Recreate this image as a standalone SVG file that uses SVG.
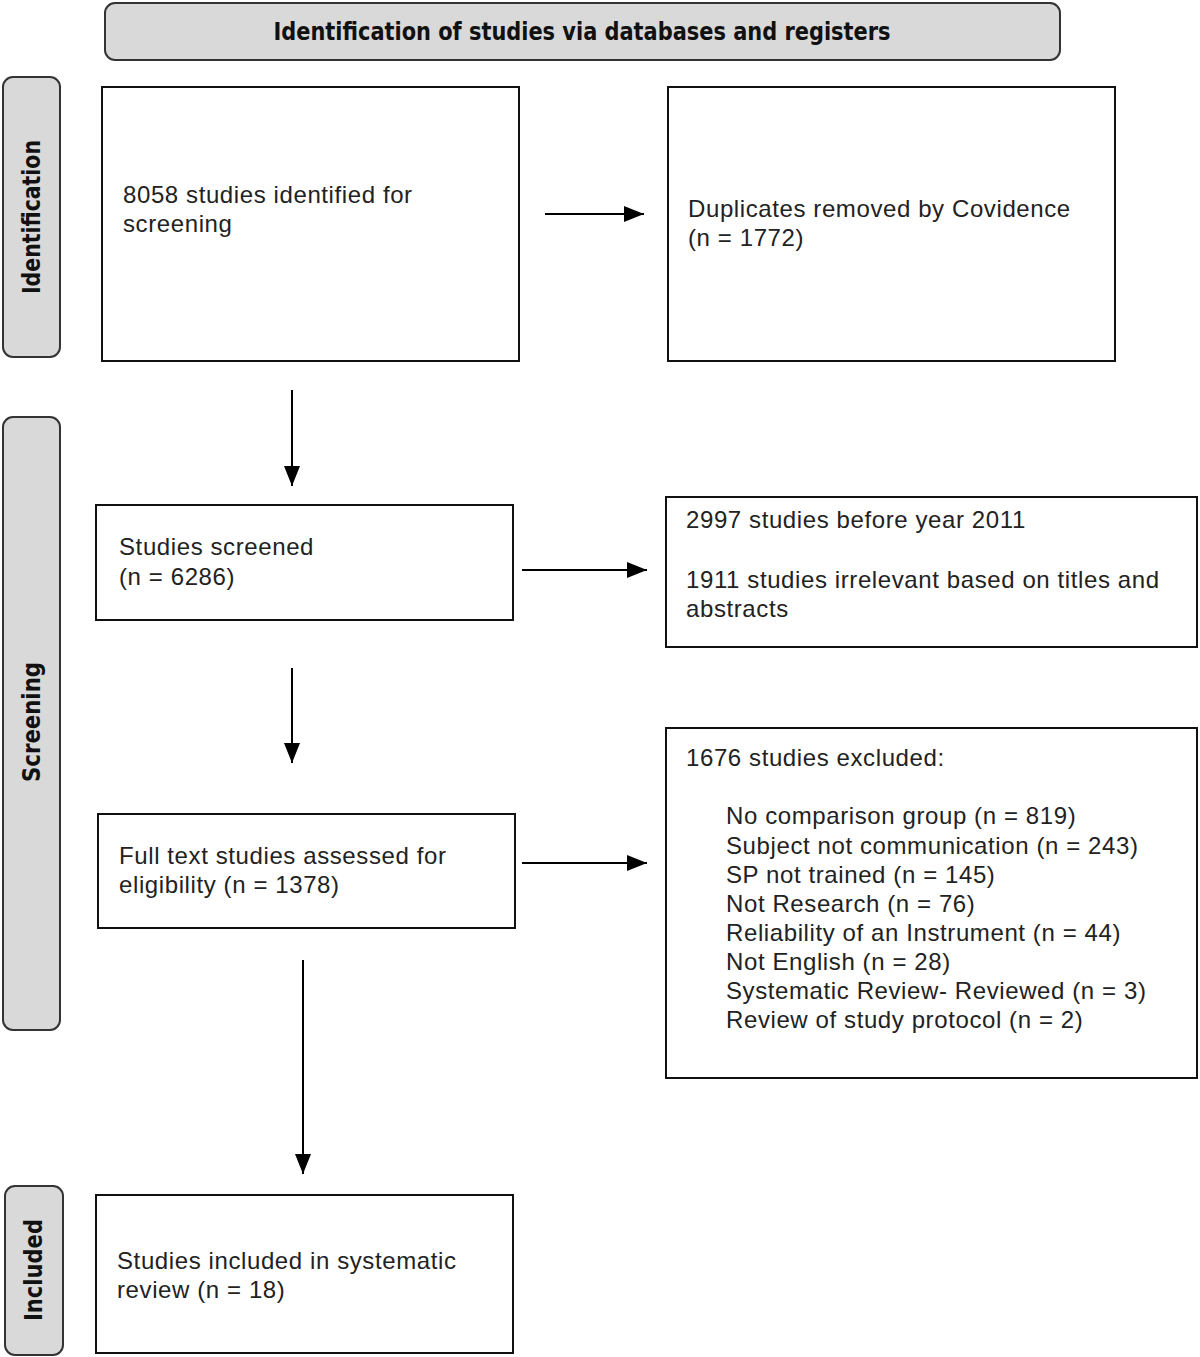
<svg xmlns="http://www.w3.org/2000/svg" width="1200" height="1357" viewBox="0 0 1200 1357">
<defs>
<style>
.bar{fill:#d9d9d9;stroke:#333;stroke-width:2}
.box{fill:#fff;stroke:#111;stroke-width:2}
.t{font-family:"Liberation Sans",Arial,sans-serif;font-size:24px;letter-spacing:0.6px;fill:#222}
.h{font-family:"Liberation Sans Narrow","DejaVu Sans Condensed","Liberation Sans",sans-serif;font-weight:bold;font-size:24px;fill:#111}
.c{stroke:#000;stroke-width:2;fill:none}
</style>
<marker id="ah" markerUnits="userSpaceOnUse" markerWidth="22" markerHeight="16" refX="20" refY="8" orient="auto">
<path d="M0,0 L20,8 L0,16 Z" fill="#000"/>
</marker>
</defs>
<rect width="1200" height="1357" fill="#fff"/>

<g id="header">
<rect class="bar" x="105" y="3" width="955" height="57" rx="10"/>
<text class="h" x="582" y="40" text-anchor="middle" textLength="617" lengthAdjust="spacingAndGlyphs">Identification of studies via databases and registers</text>
</g>
<g id="phase-identification">
<rect class="bar" x="3" y="77" width="57" height="280" rx="10"/>
<text class="h" transform="translate(40,217) rotate(-90)" text-anchor="middle" textLength="154" lengthAdjust="spacingAndGlyphs">Identification</text>
</g>
<g id="phase-screening">
<rect class="bar" x="3" y="417" width="57" height="613" rx="10"/>
<text class="h" transform="translate(40,722) rotate(-90)" text-anchor="middle" textLength="120" lengthAdjust="spacingAndGlyphs">Screening</text>
</g>
<g id="phase-included">
<rect class="bar" x="5" y="1186" width="58" height="169" rx="10"/>
<text class="h" transform="translate(42,1270) rotate(-90)" text-anchor="middle" textLength="102" lengthAdjust="spacingAndGlyphs">Included</text>
</g>

<g id="identified">
<rect class="box" x="102" y="87" width="417" height="274"/>
<text class="t" x="123" y="203">8058 studies identified for</text>
<text class="t" x="123" y="232">screening</text>
</g>
<g id="duplicates">
<rect class="box" x="668" y="87" width="447" height="274"/>
<text class="t" x="688" y="217">Duplicates removed by Covidence</text>
<text class="t" x="688" y="246">(n = 1772)</text>
</g>
<g id="screened">
<rect class="box" x="96" y="505" width="417" height="115"/>
<text class="t" x="119" y="555">Studies screened</text>
<text class="t" x="119" y="585">(n = 6286)</text>
</g>
<g id="screen-excluded">
<rect class="box" x="666" y="497" width="531" height="150"/>
<text class="t" x="686" y="528">2997 studies before year 2011</text>
<text class="t" x="686" y="588">1911 studies irrelevant based on titles and</text>
<text class="t" x="686" y="617">abstracts</text>
</g>
<g id="fulltext">
<rect class="box" x="98" y="814" width="417" height="114"/>
<text class="t" x="119" y="864">Full text studies assessed for</text>
<text class="t" x="119" y="893">eligibility (n = 1378)</text>
</g>
<g id="fulltext-excluded">
<rect class="box" x="666" y="728" width="531" height="350"/>
<text class="t" x="686" y="766">1676 studies excluded:</text>
<text class="t" x="726" y="824">No comparison group (n = 819)</text>
<text class="t" x="726" y="854">Subject not communication (n = 243)</text>
<text class="t" x="726" y="883">SP not trained (n = 145)</text>
<text class="t" x="726" y="912">Not Research (n = 76)</text>
<text class="t" x="726" y="941">Reliability of an Instrument (n = 44)</text>
<text class="t" x="726" y="970">Not English (n = 28)</text>
<text class="t" x="726" y="999">Systematic Review- Reviewed (n = 3)</text>
<text class="t" x="726" y="1028">Review of study protocol (n = 2)</text>
</g>
<g id="included">
<rect class="box" x="96" y="1195" width="417" height="158"/>
<text class="t" x="117" y="1269">Studies included in systematic</text>
<text class="t" x="117" y="1298">review (n = 18)</text>
</g>

<g id="connectors">
<line class="c" x1="545" y1="214" x2="644" y2="214" marker-end="url(#ah)"/>
<line class="c" x1="292" y1="390" x2="292" y2="486" marker-end="url(#ah)"/>
<line class="c" x1="522" y1="570" x2="647" y2="570" marker-end="url(#ah)"/>
<line class="c" x1="292" y1="668" x2="292" y2="763" marker-end="url(#ah)"/>
<line class="c" x1="522" y1="863" x2="647" y2="863" marker-end="url(#ah)"/>
<line class="c" x1="303" y1="960" x2="303" y2="1174" marker-end="url(#ah)"/>
</g>
</svg>
